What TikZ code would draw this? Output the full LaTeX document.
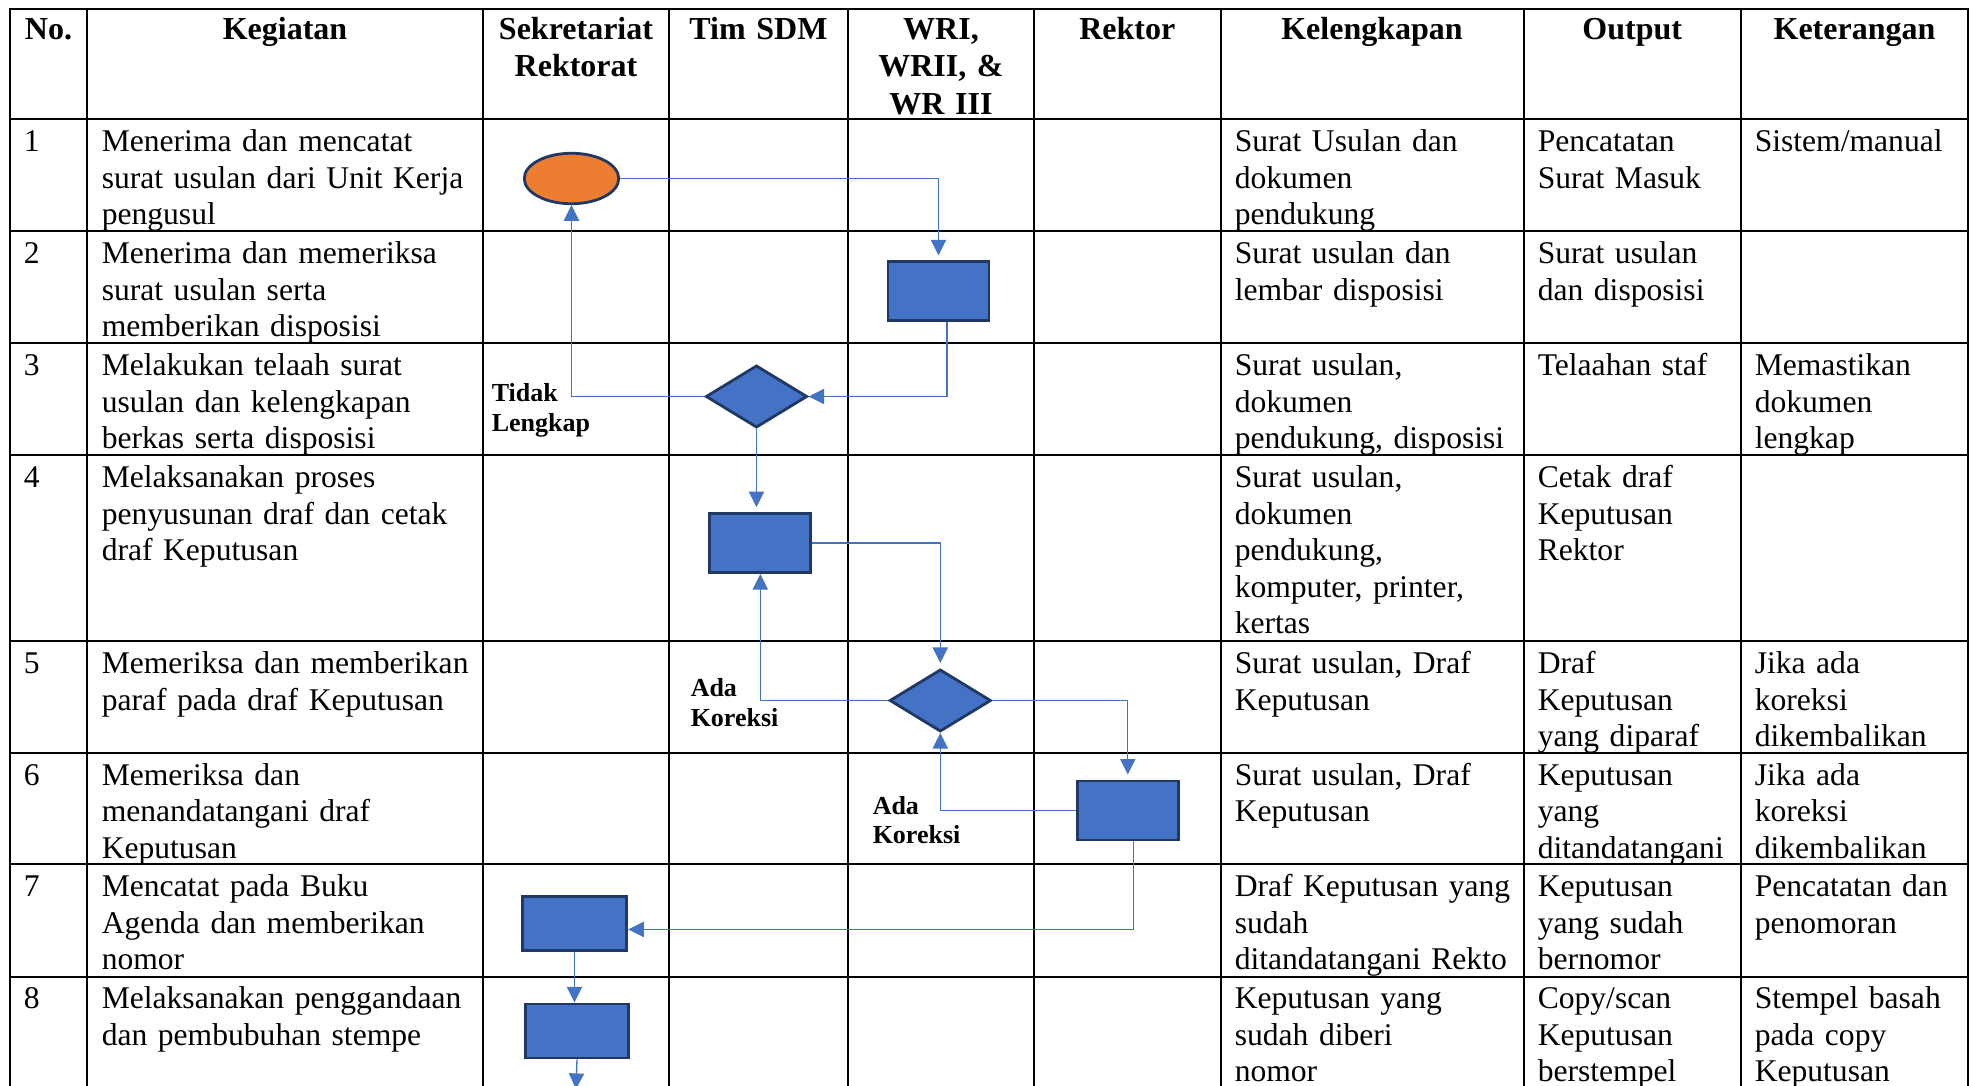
\documentclass[tikz,border=0pt]{standalone}
\usepackage{fontspec}
\setmainfont{Liberation Serif}
\usetikzlibrary{shapes.geometric,arrows.meta}

\definecolor{isibiru}{RGB}{68,114,196}
\definecolor{tepibiru}{RGB}{31,56,100}
\definecolor{isioranye}{RGB}{237,125,49}
\definecolor{garisalur}{RGB}{68,114,196}

\tikzset{every picture/.style={line width=0.75pt}}
\tikzset{
  tabel/.style={line width=1pt, line cap=rect},
  judul/.style={anchor=base, align=center, text width=100pt, inner sep=0pt, font=\fontsize{16}{18.65}\selectfont\bfseries},
  isi/.style={anchor=base west, align=left, text width=190pt, inner sep=0pt, font=\fontsize{15.8}{18.25}\selectfont},
  cabang/.style={anchor=base west, align=left, text width=60pt, inner sep=0pt, font=\fontsize{13}{14.75}\selectfont\bfseries},
  terminal/.style={ellipse, draw=tepibiru, fill=isioranye, line width=1.4pt, inner sep=0pt, minimum width=47.25pt, minimum height=25.25pt},
  proses/.style={rectangle, draw=tepibiru, fill=isibiru, line width=1.4pt, inner sep=0pt, minimum width=50.5pt, minimum height=29.5pt},
  putusan/.style={diamond, draw=tepibiru, fill=isibiru, line width=1.4pt, inner sep=0pt, minimum width=50.7pt, minimum height=31.1pt},
  alur/.style={draw=garisalur, line width=0.65pt, -{Triangle[length=7.8pt,width=7.6pt]}},
}

\begin{document}
\begin{tikzpicture}[x=0.5pt,y=0.5pt,yscale=-1,xscale=1]
%set diagram left start at 0, and has height of 1086
\useasboundingbox (0,0) rectangle (1971,1086);

%Shape: Rectangle [outer border, cut at the bottom]
\draw [tabel] (10,1090) -- (10,9) -- (1968,9) -- (1968,1090) ;
%Straight Lines [columns]
\draw [tabel] (87,9) -- (87,1090) ;
\draw [tabel] (483,9) -- (483,1090) ;
\draw [tabel] (669,9) -- (669,1090) ;
\draw [tabel] (848,9) -- (848,1090) ;
\draw [tabel] (1034,9) -- (1034,1090) ;
\draw [tabel] (1220.5,9) -- (1220.5,1090) ;
\draw [tabel] (1523.5,9) -- (1523.5,1090) ;
\draw [tabel] (1741,9) -- (1741,1090) ;
%Straight Lines [rows]
\draw [tabel] (10,119) -- (1968,119) ;
\draw [tabel] (10,231) -- (1968,231) ;
\draw [tabel] (10,343) -- (1968,343) ;
\draw [tabel] (10,455) -- (1968,455) ;
\draw [tabel] (10,641) -- (1968,641) ;
\draw [tabel] (10,752.5) -- (1968,752.5) ;
\draw [tabel] (10,864) -- (1968,864) ;
\draw [tabel] (10,976.5) -- (1968,976.5) ;

% Text Node [header]
\draw (48.5,39.5) node [judul] (hno) {No.};
\draw (285,39.5) node [judul] (hkeg) {Kegiatan};
\draw (576,39.5) node [judul] (hsek) {Sekretariat\\Rektorat};
\draw (758.5,39.5) node [judul] (hsdm) {Tim SDM};
\draw (941,39.5) node [judul] (hwr) {WRI,\\WRII, \&\\WR III};
\draw (1127.25,39.5) node [judul] (hrek) {Rektor};
\draw (1372,39.5) node [judul] (hkel) {Kelengkapan};
\draw (1632.25,39.5) node [judul] (hout) {Output};
\draw (1854.5,39.5) node [judul] (hket) {Keterangan};

% Text Node [No.]
\draw (23,151.5) node [isi] (no1) {1};
\draw (23,263.5) node [isi] (no2) {2};
\draw (23,375.5) node [isi] (no3) {3};
\draw (23,487.5) node [isi] (no4) {4};
\draw (23,673.5) node [isi] (no5) {5};
\draw (23,785) node [isi] (no6) {6};
\draw (23,896.5) node [isi] (no7) {7};
\draw (23,1008.5) node [isi] (no8) {8};

% Text Node [Kegiatan]
\draw (101,151.5) node [isi] (keg1) {Menerima dan mencatat\\surat usulan dari Unit Kerja\\pengusul};
\draw (101,263.5) node [isi] (keg2) {Menerima dan memeriksa\\surat usulan serta\\memberikan disposisi};
\draw (101,375.5) node [isi] (keg3) {Melakukan telaah surat\\usulan dan kelengkapan\\berkas serta disposisi};
\draw (101,487.5) node [isi] (keg4) {Melaksanakan proses\\penyusunan draf dan cetak\\draf Keputusan};
\draw (101,673.5) node [isi] (keg5) {Memeriksa dan memberikan\\paraf pada draf Keputusan};
\draw (101,785) node [isi] (keg6) {Memeriksa dan\\menandatangani draf\\Keputusan};
\draw (101,896.5) node [isi] (keg7) {Mencatat pada Buku\\Agenda dan memberikan\\nomor};
\draw (101,1008.5) node [isi] (keg8) {Melaksanakan penggandaan\\dan pembubuhan stempe};

% Text Node [Kelengkapan]
\draw (1234,151.5) node [isi] (kel1) {Surat Usulan dan\\dokumen\\pendukung};
\draw (1234,263.5) node [isi] (kel2) {Surat usulan dan\\lembar disposisi};
\draw (1234,375.5) node [isi] (kel3) {Surat usulan,\\dokumen\\pendukung, disposisi};
\draw (1234,487.5) node [isi] (kel4) {Surat usulan,\\dokumen\\pendukung,\\komputer, printer,\\kertas};
\draw (1234,673.5) node [isi] (kel5) {Surat usulan, Draf\\Keputusan};
\draw (1234,785) node [isi] (kel6) {Surat usulan, Draf\\Keputusan};
\draw (1234,896.5) node [isi] (kel7) {Draf Keputusan yang\\sudah\\ditandatangani Rekto};
\draw (1234,1008.5) node [isi] (kel8) {Keputusan yang\\sudah diberi\\nomor};

% Text Node [Output]
\draw (1537,151.5) node [isi] (out1) {Pencatatan\\Surat Masuk};
\draw (1537,263.5) node [isi] (out2) {Surat usulan\\dan disposisi};
\draw (1537,375.5) node [isi] (out3) {Telaahan staf};
\draw (1537,487.5) node [isi] (out4) {Cetak draf\\Keputusan\\Rektor};
\draw (1537,673.5) node [isi] (out5) {Draf\\Keputusan\\yang diparaf};
\draw (1537,785) node [isi] (out6) {Keputusan\\yang\\ditandatangani};
\draw (1537,896.5) node [isi] (out7) {Keputusan\\yang sudah\\bernomor};
\draw (1537,1008.5) node [isi] (out8) {Copy/scan\\Keputusan\\berstempel};

% Text Node [Keterangan]
\draw (1754,151.5) node [isi] (ket1) {Sistem/manual};
\draw (1754,375.5) node [isi] (ket3) {Memastikan\\dokumen\\lengkap};
\draw (1754,673.5) node [isi] (ket5) {Jika ada\\koreksi\\dikembalikan};
\draw (1754,785) node [isi] (ket6) {Jika ada\\koreksi\\dikembalikan};
\draw (1754,896.5) node [isi] (ket7) {Pencatatan dan\\penomoran};
\draw (1754,1008.5) node [isi] (ket8) {Stempel basah\\pada copy\\Keputusan};

%Shape: Ellipse
\draw (571.5,178.5) node [terminal] (terima) {};
%Shape: Rectangle
\draw (938.5,291.3) node [proses] (disposisi) {};
%Shape: Diamond
\draw (756.5,396.5) node [putusan] (telaah) {};
%Shape: Rectangle
\draw (760.3,543) node [proses] (draf) {};
%Shape: Diamond
\draw (940.3,700.5) node [putusan] (paraf) {};
%Shape: Rectangle
\draw (1127.8,810.5) node [proses] (ttd) {};
%Shape: Rectangle
\draw (574.5,923.4) node [proses, minimum width=52.3pt, minimum height=27.15pt] (catat) {};
%Shape: Rectangle
\draw (577,1030.9) node [proses, minimum width=51.8pt, minimum height=27pt] (stempel) {};

% Text Node [branch labels]
\draw (491,401.5) node [cabang] (tidak) {Tidak\\Lengkap};
\draw (690,696.5) node [cabang] (koreksia) {Ada\\Koreksi};
\draw (872,814) node [cabang] (koreksib) {Ada\\Koreksi};

%Straight Lines [flow]
\draw [alur, shorten >=2.5pt] (terima.east) -| (disposisi.north) ;
\draw [alur] ([xshift=4.25pt]disposisi.south) |- (telaah.east) ;
\draw [alur] (telaah.west) -| (terima.south) ;
\draw [alur, shorten >=2.5pt] (telaah.south) -- (telaah.south |- draf.north) ;
\draw [alur, shorten >=2.5pt] (draf.east) -| (paraf.north) ;
\draw [alur] (paraf.west) -| (draf.south) ;
\draw [alur, shorten >=2.5pt] (paraf.east) -| (ttd.north) ;
\draw [alur] (ttd.west) -| (paraf.south) ;
\draw [alur] ([xshift=3pt]ttd.south) |- ([yshift=3pt]catat.east) ;
\draw [alur] (catat.south) -- (catat.south |- stempel.north) ;
\coordinate (lanjut) at (576,1089) ;
\draw [alur] (stempel.south) -- (lanjut) ;

\end{tikzpicture}
\end{document}
